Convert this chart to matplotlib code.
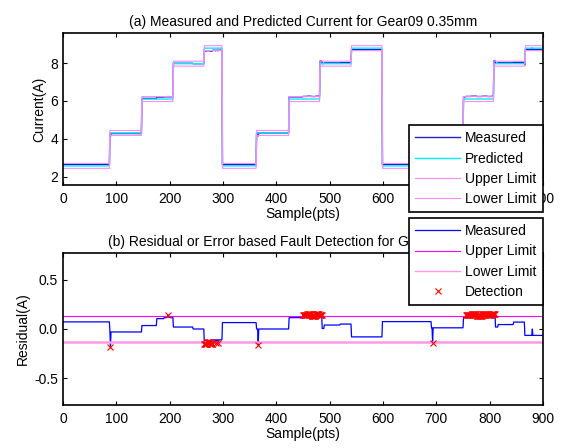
import numpy as np
import matplotlib
matplotlib.use('Agg')
import matplotlib.pyplot as plt

plt.rcParams['font.family'] = ['Liberation Sans', 'DejaVu Sans']
plt.rcParams['font.size'] = 10
plt.rcParams['axes.unicode_minus'] = False

# dane
n_samples = 900
load_edges = [0, 88, 148, 207, 265, 299, 363, 424, 482, 541, 599, 691, 751, 808, 867, 900]
predicted_levels = [2.57, 4.31, 6.10, 7.97, 8.79,
                    2.57, 4.31, 6.10, 7.97, 8.79,
                    2.57, 4.31, 6.10, 7.97, 8.79]
limit = 0.13

res_edges = [0, 88, 148, 176, 190, 207, 244, 265, 270, 276, 281, 299, 363, 424,
             450, 458, 466, 474, 481, 486, 490, 520, 541, 599, 691, 751,
             756, 766, 776, 786, 796, 804, 811, 816, 845, 866, 900]
res_levels = [0.072, -0.03, 0.035, 0.105, 0.12, 0.02, 0.0, -0.15, -0.135, -0.155, -0.11,
              0.065, 0.0, 0.115,
              0.14, 0.152, 0.135, 0.15, 0.14, 0.005, 0.04, 0.05, -0.08, 0.075, 0.012,
              0.12, 0.14, 0.152, 0.136, 0.15, 0.138, 0.148, 0.02, 0.045, 0.07, -0.065]
spike_x = [89, 197, 286, 290, 366, 693, 880]
spike_y = [-0.18, 0.14, -0.145, -0.14, -0.16, -0.14, 0.0]


def steps(edges, levels):
    out = np.empty(n_samples)
    for a, b, v in zip(edges[:-1], edges[1:], levels):
        out[a:b] = v
    return out


x = np.arange(n_samples)
predicted = steps(load_edges, predicted_levels)
residual = steps(res_edges, res_levels)
residual[spike_x] = spike_y
measured = predicted + residual
upper = predicted + limit
lower = predicted - limit
det = np.abs(residual) >= limit

fig = plt.figure(figsize=(5.61, 4.48), dpi=100)
ax1 = fig.add_axes([63 / 561, 1 - 185 / 448, 480 / 561, 152 / 448])
ax2 = fig.add_axes([63 / 561, 1 - 405 / 448, 480 / 561, 152 / 448])

# (a) prad zmierzony i przewidywany
ax1.plot(x, measured, color='#2020c8', lw=1.0, label='Measured')
ax1.plot(x, predicted, color='#00eeee', lw=1.0, label='Predicted')
ax1.plot(x, upper, color='#ff88ff', lw=0.8, label='Upper Limit')
ax1.plot(x, lower, color='#ff88ff', lw=0.8, label='Lower Limit')
ax1.set_xlim(0, 900)
ax1.set_ylim(1.56, 9.59)
ax1.set_yticks([2, 4, 6, 8])
ax1.set_title('(a) Measured and Predicted Current for Gear09 0.35mm', fontsize=10, pad=5)
ax1.set_xlabel('Sample(pts)', labelpad=1)
ax1.set_ylabel('Current(A)', labelpad=3)

# (b) residuum i detekcja
ax2.plot(x, residual, color='#0000ff', lw=0.9, label='Measured')
ax2.plot(x, np.full(n_samples, limit), color='#ff00ff', lw=0.8, label='Upper Limit')
ax2.plot(x, np.full(n_samples, -limit), color='#ff99e6', lw=1.8, label='Lower Limit')
ax2.plot(x[det], residual[det], 'x', color='#ff0000', ms=4, mew=0.8, label='Detection')
ax2.set_xlim(0, 900)
ax2.set_ylim(-0.77, 0.77)
ax2.set_yticks([-0.5, 0, 0.5])
ax2.set_title('(b) Residual or Error based Fault Detection for Gear09 0.35mm', fontsize=10, pad=5)
ax2.set_xlabel('Sample(pts)', labelpad=1)
ax2.set_ylabel('Residual(A)', labelpad=3)

for ax in (ax1, ax2):
    ax.set_xticks(range(0, 901, 100))
    ax.tick_params(direction='in', top=True, right=True, length=3, width=0.8)
    ax.tick_params(axis='x', pad=5)
    for s in ax.spines.values():
        s.set_linewidth(1.2)

leg_kw = dict(loc='upper right', bbox_transform=fig.transFigure, fancybox=False,
              edgecolor='black', framealpha=1, handlelength=3.2, handletextpad=0.4,
              labelspacing=0.45, borderpad=0.45, borderaxespad=0, numpoints=1)
l1 = ax1.legend(bbox_to_anchor=(543 / 561, 1 - 125 / 448), **leg_kw)
l2 = ax2.legend(bbox_to_anchor=(543 / 561, 1 - 218 / 448), **leg_kw)
for l in (l1, l2):
    l.get_frame().set_linewidth(1.2)
    l.set_zorder(10)
    for h in l.get_lines():
        h.set_linewidth(min(h.get_linewidth(), 1.0))

fig.savefig('out.png', dpi=100)
